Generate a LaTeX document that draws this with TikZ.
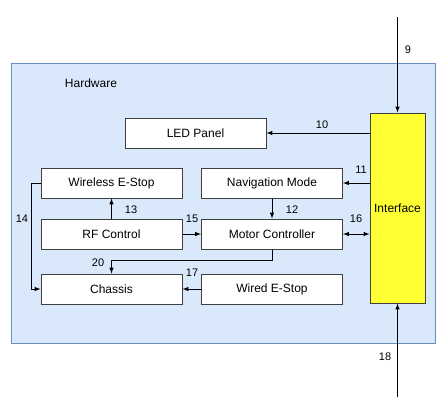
\documentclass[tikz,border=0pt]{standalone}
\usepackage{fontspec}
\setmainfont{Liberation Sans}
\usepackage{tikz}
\usetikzlibrary{positioning,arrows}
\definecolor{hwblue}{HTML}{DAE8FC}
\definecolor{hwline}{HTML}{6C8EBF}
\definecolor{ifyellow}{HTML}{FFFF33}
\definecolor{boxline}{HTML}{404040}

\begin{document}
\begin{tikzpicture}[x=1pt,y=-1pt]
\tikzstyle{group}=[rectangle, draw=hwline, fill=hwblue, line width=0.8pt, minimum width=424pt, minimum height=280pt]
\tikzstyle{block}=[rectangle, draw=boxline, fill=white, line width=1pt, minimum width=141pt, minimum height=30pt, font=\fontsize{12}{14}\selectfont]
\tikzstyle{iface}=[rectangle, draw=boxline, fill=ifyellow, line width=1pt, minimum width=55pt, minimum height=190pt, font=\fontsize{12}{14}\selectfont]
\tikzstyle{elabel}=[font=\fontsize{11}{13}\selectfont, inner sep=0pt]
\tikzstyle{connect}=[-latex, line width=1pt]

\useasboundingbox (0,0) rectangle (446,416);

	\node[group] (hw) at (223,203) {};
	\node[font=\fontsize{12}{14}\selectfont] (hwname) at (91,83) {Hardware};

	\node[iface] (ifc) at (397.5,208) {Interface};
	\node[block] (led) at (195.5,133) {LED Panel};

	\node[block] (wes) at (111.5,183) {Wireless E-Stop};
	\node[block] (nav) at (272,183) {Navigation Mode};

	\node[block] (rf) at (111.5,234) {RF Control};
	\node[block] (mc) at (272,234) {Motor Controller};

	\node[block] (ch) at (111.5,289) {Chassis};
	\node[block] (wired) at (272,289) {Wired E-Stop};

	\coordinate (in9) at (397.5,17);
	\coordinate (in18) at (397.5,397);

	\node[elabel] (l9) at (408,50) {9};
	\node[elabel] (l10) at (322,125) {10};
	\node[elabel] (l11) at (361,170) {11};
	\node[elabel] (l12) at (292,210) {12};
	\node[elabel] (l13) at (131,210) {13};
	\node[elabel] (l14) at (22,219) {14};
	\node[elabel] (l15) at (192,219) {15};
	\node[elabel] (l16) at (356,219) {16};
	\node[elabel] (l17) at (192,273) {17};
	\node[elabel] (l18) at (385,357) {18};
	\node[elabel] (l20) at (98,263) {20};

	\path[connect]
		(in9) edge [] (ifc.north)
		(in18) edge [] (ifc.south)
		(led.east -| ifc.west) edge [] (led.east)
		(nav.east -| ifc.west) edge [] (nav.east)
		(mc.east) edge [latex-latex] (mc.east -| ifc.west);

	\path[connect]
		(nav) edge [] (mc)
		(rf) edge [] (wes)
		(rf) edge [] (mc)
		(wired) edge [] (ch);

	\draw[connect] (mc.south) -- ++(0,11) -| (ch.north);
	\draw[connect] (wes.west) -- ++(-9,0) |- (ch.west);

\end{tikzpicture}
\end{document}
